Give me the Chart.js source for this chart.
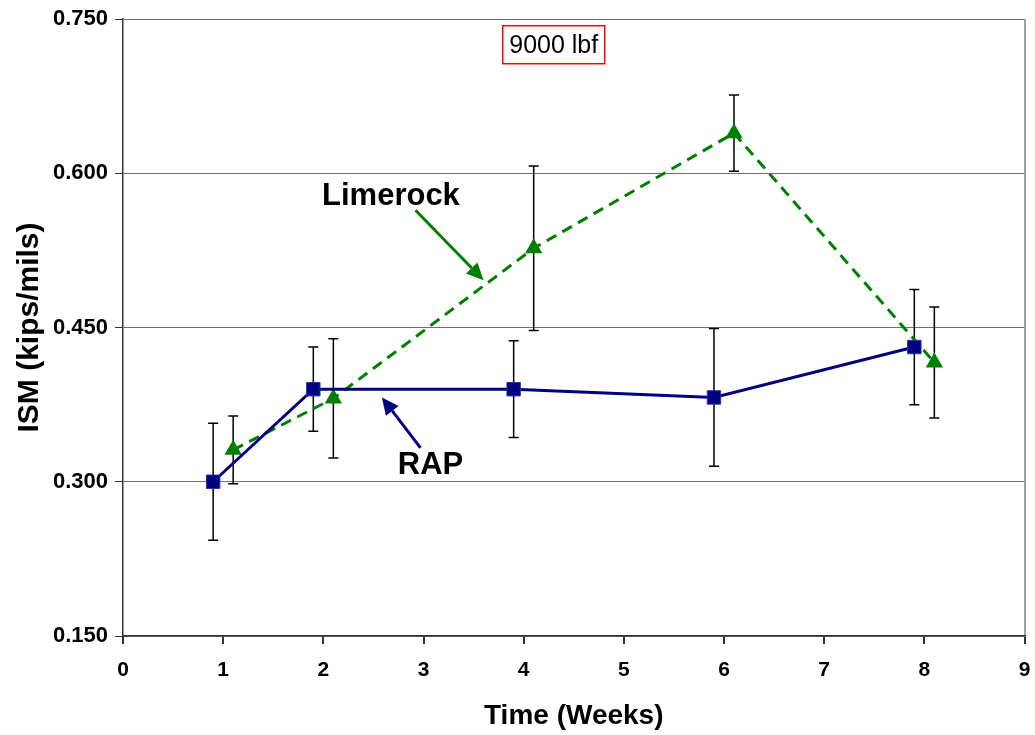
<!DOCTYPE html>
<html>
<head>
<meta charset="utf-8">
<script src="https://cdn.jsdelivr.net/npm/chart.js@4/dist/chart.umd.min.js"></script>
<style>
  html, body { margin: 0; padding: 0; background: #fff; }
  #chart { display: block; }
</style>
</head>
<body>
<canvas id="chart" width="1035" height="735"></canvas>
<script>
(function () {

  // values
  var weeksRAP = [0.9, 1.9, 3.9, 5.9, 7.9];
  var ismRAP = [0.300, 0.390, 0.390, 0.382, 0.431];
  var errRAP = [0.057, 0.041, 0.047, 0.067, 0.056];

  var weeksLime = [1.1, 2.1, 4.1, 6.1, 8.1];
  var ismLime = [0.331, 0.381, 0.527, 0.639, 0.416];
  var errLime = [0.033, 0.058, 0.080, 0.037, 0.054];

  var yTicks = [0.150, 0.300, 0.450, 0.600, 0.750];
  var xTicks = [0, 1, 2, 3, 4, 5, 6, 7, 8, 9];

  var font = 'Arial, "Liberation Sans", sans-serif';
  var navy = '#000080';
  var green = '#008000';

  var toPoints = function (xs, ys) {
    return xs.map(function (v, i) { return { x: v, y: ys[i] }; });
  };

  var errorBars = {
    id: 'errorBars',
    beforeDatasetsDraw: function (chart) {
      var ctx = chart.ctx;
      var sx = chart.scales.x, sy = chart.scales.y;
      ctx.save();
      ctx.strokeStyle = '#000';
      ctx.lineWidth = 1.5;
      [[weeksRAP, ismRAP, errRAP], [weeksLime, ismLime, errLime]].forEach(function (s) {
        s[0].forEach(function (w, i) {
          var px = sx.getPixelForValue(w);
          var top = sy.getPixelForValue(s[1][i] + s[2][i]);
          var bot = sy.getPixelForValue(s[1][i] - s[2][i]);
          ctx.beginPath();
          ctx.moveTo(px, top); ctx.lineTo(px, bot);
          ctx.moveTo(px - 5, top); ctx.lineTo(px + 5, top);
          ctx.moveTo(px - 5, bot); ctx.lineTo(px + 5, bot);
          ctx.stroke();
        });
      });
      ctx.restore();
    }
  };

  var arrow = function (ctx, x1, y1, x2, y2, color) {
    var a = Math.atan2(y2 - y1, x2 - x1);
    var len = 17, half = 8;
    var bx = x2 - Math.cos(a) * len, by = y2 - Math.sin(a) * len;
    ctx.strokeStyle = color;
    ctx.fillStyle = color;
    ctx.lineWidth = 3;
    ctx.beginPath();
    ctx.moveTo(x1, y1);
    ctx.lineTo(bx, by);
    ctx.stroke();
    ctx.beginPath();
    ctx.moveTo(x2, y2);
    ctx.lineTo(bx + Math.sin(a) * half, by - Math.cos(a) * half);
    ctx.lineTo(bx - Math.sin(a) * half, by + Math.cos(a) * half);
    ctx.closePath();
    ctx.fill();
  };

  var notes = {
    id: 'notes',
    afterDatasetsDraw: function (chart) {
      var ctx = chart.ctx;
      var sx = chart.scales.x, sy = chart.scales.y;
      var px = function (v) { return sx.getPixelForValue(v); };
      var py = function (v) { return sy.getPixelForValue(v); };
      ctx.save();
      ctx.textAlign = 'center';
      ctx.textBaseline = 'middle';

      ctx.fillStyle = '#000';
      ctx.font = 'bold 31px ' + font;
      ctx.fillText('Limerock', px(2.675), py(0.577));
      ctx.fillText('RAP', px(3.07), py(0.316));

      arrow(ctx, px(2.92), py(0.564), px(3.60), py(0.496), green);
      arrow(ctx, px(2.97), py(0.333), px(2.585), py(0.382), navy);

      // load box
      var cx = px(4.30), cy = py(0.725);
      ctx.font = '25px ' + font;
      ctx.fillStyle = '#fff';
      ctx.fillRect(cx - 51, cy - 19, 102, 38);
      ctx.strokeStyle = '#ff0000';
      ctx.lineWidth = 1.5;
      ctx.strokeRect(cx - 51, cy - 19, 102, 38);
      ctx.fillStyle = '#000';
      ctx.fillText('9000 lbf', cx, cy + 1);
      ctx.restore();
    }
  };

  new Chart(document.getElementById('chart').getContext('2d'), {
    type: 'scatter',
    data: {
      datasets: [{
        label: 'RAP',
        data: toPoints(weeksRAP, ismRAP),
        showLine: true,
        borderColor: navy,
        backgroundColor: navy,
        borderWidth: 3,
        pointStyle: 'rect',
        pointRadius: 9.5,
        pointBorderWidth: 1,
        pointBorderColor: '#3030a0',
        tension: 0
      }, {
        label: 'Limerock',
        data: toPoints(weeksLime, ismLime),
        showLine: true,
        borderColor: green,
        backgroundColor: green,
        borderWidth: 3,
        borderDash: [11, 7],
        pointStyle: 'triangle',
        pointRadius: 10,
        pointBorderWidth: 0,
        tension: 0
      }]
    },
    options: {
      responsive: false,
      animation: false,
      devicePixelRatio: 1,
      layout: { padding: { top: 19, right: 5, left: 0, bottom: 0 } },
      plugins: {
        legend: { display: false },
        tooltip: { enabled: false }
      },
      scales: {
        x: {
          type: 'linear',
          min: 0,
          max: 9,
          afterFit: function (scale) {
            scale.height = 99;
            scale.paddingLeft = 0;
            scale.paddingRight = 0;
          },
          afterBuildTicks: function (scale) {
            scale.ticks = xTicks.map(function (v) { return { value: v }; });
          },
          ticks: {
            padding: 14,
            color: '#000',
            font: { family: font, size: 21, weight: 'bold' }
          },
          grid: {
            drawOnChartArea: true,
            color: function (c) {
              return c.tick && c.tick.value === 9 ? '#a0a0a0' : 'rgba(0,0,0,0)';
            },
            lineWidth: 2,
            tickColor: '#333',
            tickLength: 8
          },
          border: { color: '#333', width: 1.5 },
          title: {
            display: true,
            text: 'Time (Weeks)',
            color: '#000',
            font: { family: font, size: 28, weight: 'bold' },
            padding: { top: 0, bottom: 2 }
          }
        },
        y: {
          min: 0.15,
          max: 0.75,
          afterFit: function (scale) {
            scale.width = 123;
            scale.paddingTop = 0;
            scale.paddingBottom = 0;
          },
          afterBuildTicks: function (scale) {
            scale.ticks = yTicks.map(function (v) { return { value: v }; });
          },
          ticks: {
            padding: 7,
            color: '#000',
            font: { family: font, size: 22, weight: 'bold' },
            callback: function (v) { return Number(v).toFixed(3); }
          },
          grid: {
            color: '#707070',
            lineWidth: 1,
            tickColor: '#333',
            tickLength: 8
          },
          border: { color: '#333', width: 1.5 },
          title: {
            display: true,
            text: 'ISM (kips/mils)',
            color: '#000',
            font: { family: font, size: 30, weight: 'bold' },
            padding: { top: 12, bottom: 0 }
          }
        }
      }
    },
    plugins: [errorBars, notes]
  });

})();
</script>
</body>
</html>
